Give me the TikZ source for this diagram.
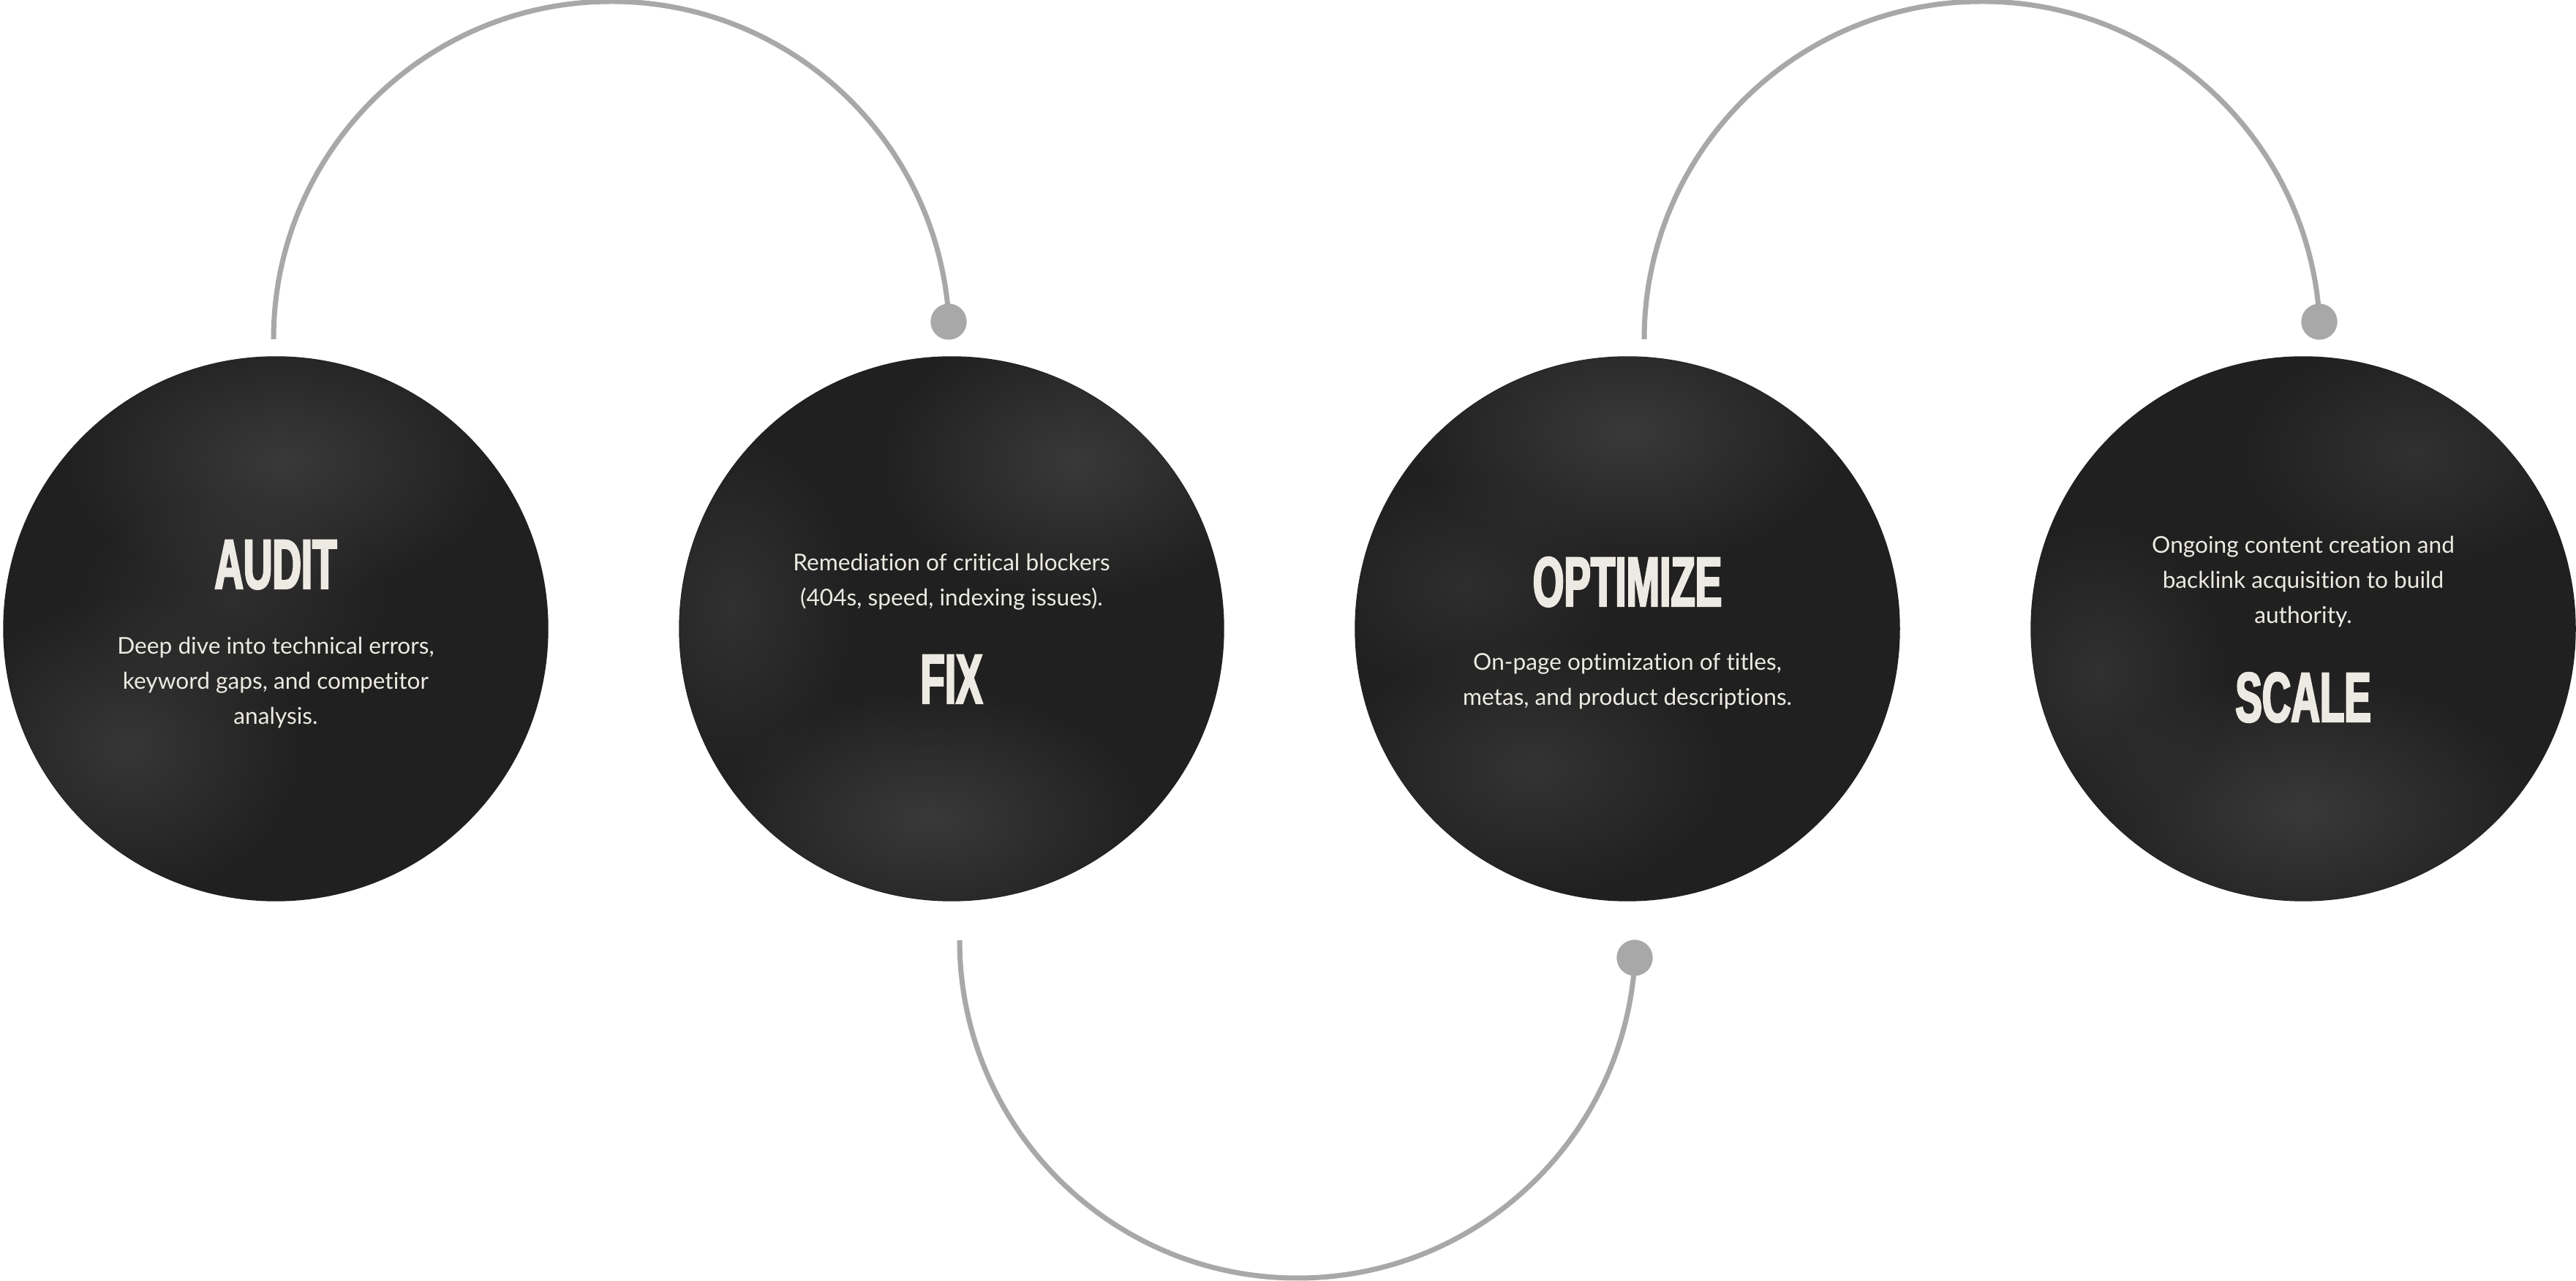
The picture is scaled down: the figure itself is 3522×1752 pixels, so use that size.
\documentclass[tikz,border=0pt]{standalone}
\usepackage{fontspec}
\setmainfont{Lato}[Ligatures=NoCommon]
\newfontfamily\titlefont{Liberation Sans}[FakeStretch=0.57,BoldFeatures={FakeBold=2.5}]
\usetikzlibrary{fadings}
\tikzfading[name=softblob, inner color=transparent!0, outer color=transparent!100]
\definecolor{discbase}{HTML}{202020}
\definecolor{discglow}{HTML}{585858}
\definecolor{linkgray}{HTML}{A8A8A8}
\definecolor{inkwhite}{HTML}{ECEAE2}
\begin{document}
\begin{tikzpicture}[x=0.01cm,y=0.01cm,
  disc/.style={circle, fill=discbase, minimum size=7.45cm, inner sep=0pt},
  glow/.style={discglow, path fading=softblob, fill opacity=#1},
  link/.style={draw=linkgray, line width=0.07cm},
  knob/.style={circle, fill=linkgray, minimum size=0.49cm, inner sep=0pt},
  ttl/.style={font=\titlefont\bfseries\fontsize{27.3}{30}\selectfont, text=inkwhite, inner sep=0pt, anchor=base},
  body/.style={font=\fontsize{9.0}{13.66}\selectfont, text=inkwhite, align=center, inner sep=0pt, anchor=base}]
\useasboundingbox (0,0) rectangle (3522,1752);
\fill[white] (0,0) rectangle (3522,1752);

% discs
\node[disc] (audit) at (377,892) {};
\node[disc] (fix) at (1301,892) {};
\node[disc] (optimize) at (2225,892) {};
\node[disc] (scale) at (3149,892) {};

% soft highlights
\begin{scope}
\clip (audit.center) circle[radius=372];
\fill[glow=0.45] ([shift={(10,230)}]audit.center) ellipse[x radius=300, y radius=190];
\fill[glow=0.4] ([shift={(-200,-160)}]audit.center) ellipse[x radius=240, y radius=210];
\fill[glow=0.25] ([shift={(-60,40)}]audit.center) ellipse[x radius=220, y radius=150];
\end{scope}
\begin{scope}
\clip (fix.center) circle[radius=372];
\fill[glow=0.45] ([shift={(170,230)}]fix.center) ellipse[x radius=270, y radius=190];
\fill[glow=0.45] ([shift={(-30,-260)}]fix.center) ellipse[x radius=300, y radius=180];
\fill[glow=0.3] ([shift={(-300,30)}]fix.center) ellipse[x radius=170, y radius=240];
\end{scope}
\begin{scope}
\clip (optimize.center) circle[radius=372];
\fill[glow=0.45] ([shift={(0,270)}]optimize.center) ellipse[x radius=300, y radius=190];
\fill[glow=0.35] ([shift={(-130,-190)}]optimize.center) ellipse[x radius=270, y radius=180];
\fill[glow=0.25] ([shift={(-220,60)}]optimize.center) ellipse[x radius=210, y radius=150];
\end{scope}
\begin{scope}
\clip (scale.center) circle[radius=372];
\fill[glow=0.45] ([shift={(0,-250)}]scale.center) ellipse[x radius=320, y radius=190];
\fill[glow=0.3] ([shift={(150,240)}]scale.center) ellipse[x radius=240, y radius=160];
\fill[glow=0.3] ([shift={(-280,-60)}]scale.center) ellipse[x radius=180, y radius=210];
\end{scope}

% connectors
\coordinate (a1s) at (374,1288);
\coordinate (a2s) at (1312,466);
\coordinate (a3s) at (2248,1288);
\node[knob] (k1) at (1297,1312) {};
\node[knob] (k2) at (2235,442) {};
\node[knob] (k3) at (3171,1312) {};
\draw[link] (a1s) arc[start angle=180, end angle=3, radius=462] -- (k1.center);
\draw[link] (a2s) arc[start angle=180, end angle=357, radius=462] -- (k2.center);
\draw[link] (a3s) arc[start angle=180, end angle=3, radius=462] -- (k3.center);
\node[knob] at (k1) {};
\node[knob] at (k2) {};
\node[knob] at (k3) {};

% texts (body anchors sit on the last line's baseline)
\node[ttl] (auditT) at (377,947) {AUDIT};
\node[body] (auditB) at (377,761) {Deep dive into technical errors,\\keyword gaps, and competitor\\analysis.};
\node[body] (fixB) at (1301,923) {Remediation of critical blockers\\(404s, speed, indexing issues).};
\node[ttl] (fixT) at (1301,790) {FIX};
\node[ttl] (optimizeT) at (2225,923) {OPTIMIZE};
\node[body] (optimizeB) at (2225,787) {On-page optimization of titles,\\metas, and product descriptions.};
\node[body] (scaleB) at (3149,899) {Ongoing content creation and\\backlink acquisition to build\\authority.};
\node[ttl] (scaleT) at (3149,765) {SCALE};
\end{tikzpicture}
\end{document}
